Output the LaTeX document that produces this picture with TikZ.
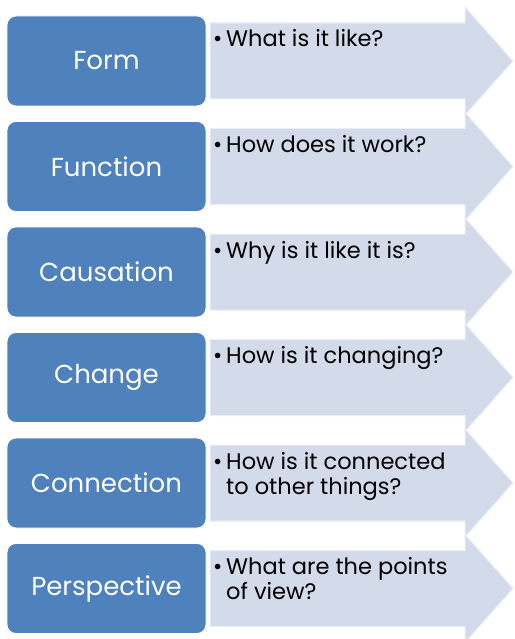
\documentclass[tikz,border=0pt]{standalone}
\usepackage{fontspec}
\setmainfont{Poppins}
\definecolor{boxblue}{HTML}{4F81BD}
\definecolor{arrowfill}{HTML}{D3DAEA}
\tikzset{
	labelbox/.style={draw=white, line width=0.8pt, fill=boxblue, rounded corners=9pt,
		minimum width=199pt, minimum height=90pt, inner sep=0pt, text=white,
		font=\fontsize{26}{30}\selectfont},
	arrowbody/.style={fill=arrowfill, draw=white!55!arrowfill, line width=1pt},
	question/.style={anchor=base west, inner sep=0pt, font=\fontsize{22.5}{25}\selectfont}
}
\begin{document}
\begin{tikzpicture}[x=1pt, y=-1pt]
	\useasboundingbox (0,0) rectangle (514,639);
	\clip (0,0) rectangle (514,639);
	
	% Pfeile
	\draw[arrowbody] (210,23) -- (465,23) -- (465,7) -- (513,61) -- (465,115) -- (465,99) -- (210,99) -- cycle;%Form
	\draw[arrowbody] (210,128.5) -- (465,128.5) -- (465,112.5) -- (513,166.5) -- (465,220.5) -- (465,204.5) -- (210,204.5) -- cycle;%Function
	\draw[arrowbody] (210,234) -- (465,234) -- (465,218) -- (513,272) -- (465,326) -- (465,310) -- (210,310) -- cycle;%Causation
	\draw[arrowbody] (210,339.5) -- (465,339.5) -- (465,323.5) -- (513,377.5) -- (465,431.5) -- (465,415.5) -- (210,415.5) -- cycle;%Change
	\draw[arrowbody] (210,445) -- (465,445) -- (465,429) -- (513,483) -- (465,537) -- (465,521) -- (210,521) -- cycle;%Connection
	\draw[arrowbody] (210,550.5) -- (465,550.5) -- (465,534.5) -- (513,588.5) -- (465,642.5) -- (465,626.5) -- (210,626.5) -- cycle;%Perspective
	
	% Begriffe
	\node[labelbox] (form) at (106.5,61) {Form};
	\node[labelbox] (function) at (106.5,166.5) {Function};
	\node[labelbox] (causation) at (106.5,272) {Causation};
	\node[labelbox] (change) at (106.5,377.5) {Change};
	\node[labelbox] (connection) at (106.5,483) {Connection};
	\node[labelbox] (perspective) at (106.5,588.5) {Perspective};
	
	% Fragen
	\node[question] (formq) at (213,47) {\textbullet\,What is it like?};
	\node[question] (functionq) at (213,152.5) {\textbullet\,How does it work?};
	\node[question] (causationq) at (213,258) {\textbullet\,Why is it like it is?};
	\node[question] (changeq) at (213,363.5) {\textbullet\,How is it changing?};
	\node[question] (connectionq) at (213,469) {\textbullet\,\begin{tabular}[t]{@{}l@{}}How is it connected\\to other things?\end{tabular}};
	\node[question] (perspectiveq) at (213,574.5) {\textbullet\,\begin{tabular}[t]{@{}l@{}}What are the points\\of view?\end{tabular}};
\end{tikzpicture}
\end{document}
